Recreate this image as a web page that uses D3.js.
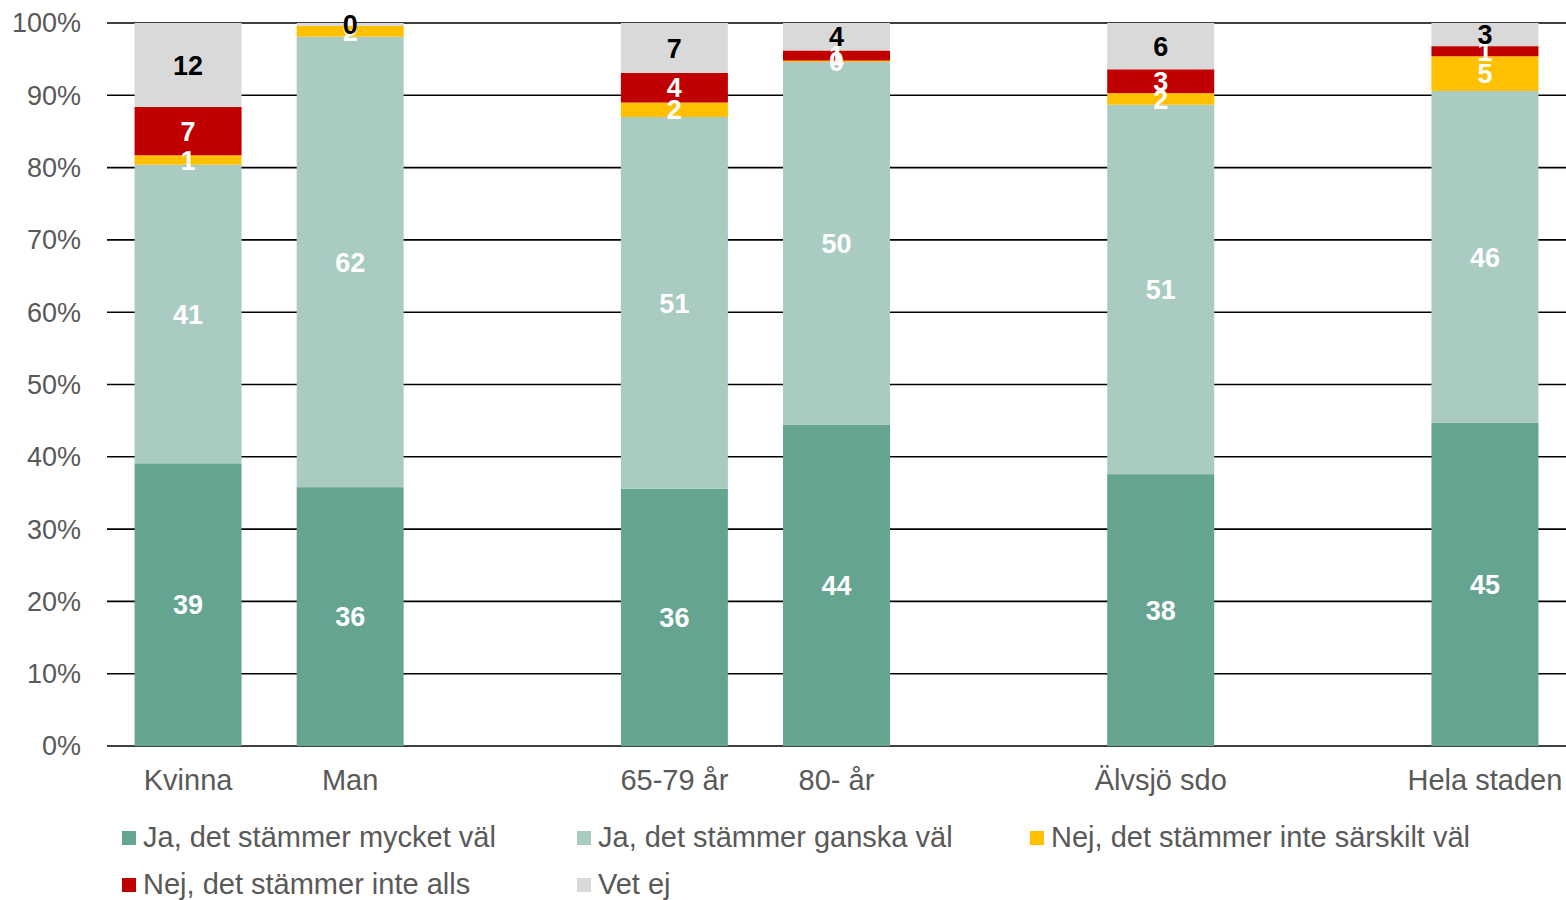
<!DOCTYPE html>
<html><head><meta charset="utf-8">
<script src="https://cdn.jsdelivr.net/npm/d3@7"></script>
<style>body{margin:0;background:#fff}svg{display:block}text{font-family:"Liberation Sans",Arial,sans-serif}</style>
</head><body><svg id="c" width="1566" height="900"></svg>
<script>
const categories = ["Kvinna","Man","","65-79 år","80- år","","Älvsjö sdo","","Hela staden"];
const seriesNames = ["Ja, det stämmer mycket väl","Ja, det stämmer ganska väl","Nej, det stämmer inte särskilt väl","Nej, det stämmer inte alls","Vet ej"];
const seriesColors = ["#64a491","#aacbc1","#ffc000","#c00000","#d9d9d9"];
const labelColors = ["#fff","#fff","#fff","#fff","#000"];
const mycketVal = [39.1,35.8,null,35.6,44.4,null,37.6,null,44.7];
const ganskaVal = [41.3,62.3,null,51.4,50.2,null,51.1,null,45.9];
const inteSarskilt = [1.3,1.5,null,2.0,0.2,null,1.6,null,4.8];
const inteAlls = [6.7,0.0,null,4.1,1.4,null,3.3,null,1.4];
const vetEj = [11.6,0.4,null,6.9,3.8,null,6.4,null,3.2];
const yTicks = [0,10,20,30,40,50,60,70,80,90,100];

const seriesValues = [mycketVal,ganskaVal,inteSarskilt,inteAlls,vetEj];
const svg = d3.select("#c");
const m = {l:107, r:1566, t:23, b:746};
const idx = d3.range(categories.length);
const x = d3.scaleBand().domain(idx).range([m.l,m.r]).paddingInner(0.34).paddingOuter(0.17);
const y = d3.scaleLinear().domain([0,100]).range([m.b,m.t]);

svg.append("g").selectAll("line").data(yTicks).join("line")
  .attr("x1",m.l).attr("x2",m.r).attr("y1",d=>y(d)).attr("y2",d=>y(d))
  .attr("stroke","#000").attr("stroke-width",1.6);
svg.append("g").selectAll("text").data(yTicks).join("text")
  .attr("x",81).attr("y",d=>y(d)).attr("dy","0.35em").attr("text-anchor","end")
  .attr("font-size",27).attr("fill","#595959").text(d=>d+"%");

const rows = idx.filter(i=>mycketVal[i]!=null).map(i=>{
  const o={i}; seriesValues.forEach((s,k)=>o[k]=s[i]); return o;});
const stack = d3.stack().keys(d3.range(seriesNames.length))(rows);
const bars = svg.append("g");
stack.forEach((layer,k)=>{
  bars.append("g").attr("fill",seriesColors[k]).selectAll("rect").data(layer).join("rect")
    .attr("x",d=>x(d.data.i)).attr("width",x.bandwidth())
    .attr("y",d=>y(d[1])).attr("height",d=>y(d[0])-y(d[1]));
});
const labs = svg.append("g");
stack.forEach((layer,k)=>{
  labs.append("g").selectAll("text").data(layer).join("text")
    .attr("x",d=>x(d.data.i)+x.bandwidth()/2).attr("y",d=>y((d[0]+d[1])/2))
    .attr("dy","0.36em").attr("text-anchor","middle").attr("font-size",27).attr("font-weight","bold")
    .attr("fill",labelColors[k]).text(d=>Math.round(d[1]-d[0]));
});
svg.append("g").selectAll("text").data(idx.filter(i=>categories[i])).join("text")
  .attr("x",i=>x(i)+x.bandwidth()/2).attr("y",780).attr("dy","0.35em").attr("text-anchor","middle")
  .attr("font-size",29).attr("fill","#595959").text(i=>categories[i]);
const legPos = [[122,837],[577,837],[1030,837],[122,884],[577,884]];
const lg = svg.append("g");
seriesNames.forEach((n,k)=>{
  const [lx,ly]=legPos[k];
  lg.append("rect").attr("x",lx).attr("y",ly-6).attr("width",14).attr("height",14).attr("fill",seriesColors[k]);
  lg.append("text").attr("x",lx+21).attr("y",ly).attr("dy","0.35em").attr("font-size",29).attr("fill","#595959").text(n);
});
</script></body></html>
